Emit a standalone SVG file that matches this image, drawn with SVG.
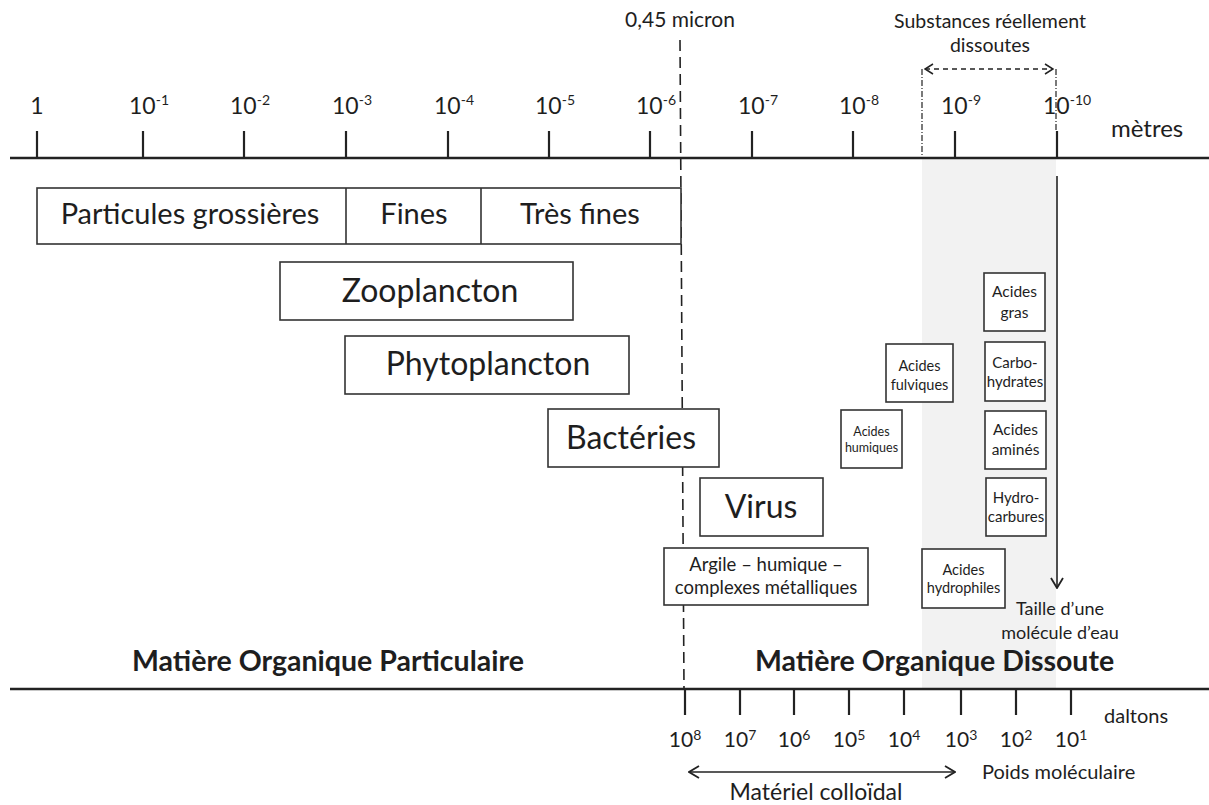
<svg xmlns="http://www.w3.org/2000/svg" width="1209" height="805" viewBox="0 0 1209 805">
<defs>
<style>
text{font-family:Lato,"Liberation Sans",sans-serif;fill:#1e1e1e}
.box{fill:#fff;stroke:#333;stroke-width:1.6}
.axis{stroke:#222;stroke-width:2.5;fill:none}
.tick{stroke:#222;stroke-width:2.2}
.mid{text-anchor:middle}
.t23{font-size:23px}
.sup{font-size:14px}
.big{font-size:32px}
.med{font-size:29px}
.bold{font-weight:bold;font-size:28.5px}
</style>
<marker id="chev" viewBox="0 0 12 14" refX="11" refY="7" markerWidth="12" markerHeight="14" markerUnits="userSpaceOnUse" orient="auto-start-reverse">
<path d="M1,1 L11,7 L1,13" fill="none" stroke="#222" stroke-width="1.8"/>
</marker>
<marker id="chevs" viewBox="0 0 10 12" refX="9" refY="6" markerWidth="10" markerHeight="12" markerUnits="userSpaceOnUse" orient="auto-start-reverse">
<path d="M1,1 L9,6 L1,11" fill="none" stroke="#222" stroke-width="1.5"/>
</marker>
</defs>
<rect width="1209" height="805" fill="#fff"/>
<rect x="922" y="159" width="134" height="530" fill="#f2f2f2"/>

<g id="axe-metres">
<line class="axis" x1="10" y1="158" x2="1209" y2="158"/>
<g class="tick">
<line x1="37" y1="131" x2="37" y2="158"/>
<line x1="143" y1="131" x2="143" y2="158"/>
<line x1="244" y1="131" x2="244" y2="158"/>
<line x1="346" y1="131" x2="346" y2="158"/>
<line x1="448" y1="131" x2="448" y2="158"/>
<line x1="549" y1="131" x2="549" y2="158"/>
<line x1="650" y1="131" x2="650" y2="158"/>
<line x1="752" y1="131" x2="752" y2="158"/>
<line x1="853" y1="131" x2="853" y2="158"/>
<line x1="955" y1="131" x2="955" y2="158"/>
<line x1="1057" y1="131" x2="1057" y2="158"/>
</g>
<text class="t23 mid" x="37" y="114">1</text>
<text class="t23" x="129" y="114">10<tspan class="sup" dy="-9">-1</tspan></text>
<text class="t23" x="230" y="114">10<tspan class="sup" dy="-9">-2</tspan></text>
<text class="t23" x="332" y="114">10<tspan class="sup" dy="-9">-3</tspan></text>
<text class="t23" x="434" y="114">10<tspan class="sup" dy="-9">-4</tspan></text>
<text class="t23" x="535" y="114">10<tspan class="sup" dy="-9">-5</tspan></text>
<text class="t23" x="636" y="114">10<tspan class="sup" dy="-9">-6</tspan></text>
<text class="t23" x="738" y="114">10<tspan class="sup" dy="-9">-7</tspan></text>
<text class="t23" x="839" y="114">10<tspan class="sup" dy="-9">-8</tspan></text>
<text class="t23" x="941" y="114">10<tspan class="sup" dy="-9">-9</tspan></text>
<text class="t23" x="1043" y="114">10<tspan class="sup" dy="-9">-10</tspan></text>
<text x="1111" y="137" style="font-size:24px">mètres</text>
</g>

<g id="seuil-045">
<line x1="680" y1="40" x2="684" y2="689" stroke="#222" stroke-width="1.6" stroke-dasharray="11,6"/>
<text class="mid" x="680" y="27" style="font-size:21px">0,45 micron</text>
</g>

<g id="substances-dissoutes">
<text class="mid" x="990" y="28" style="font-size:19.5px">Substances réellement</text>
<text class="mid" x="990" y="52" style="font-size:19.5px">dissoutes</text>
<line x1="922" y1="69" x2="922" y2="158" stroke="#222" stroke-width="1.2" stroke-dasharray="6,2,1,2"/>
<line x1="1056" y1="69" x2="1056" y2="131" stroke="#222" stroke-width="1.2" stroke-dasharray="6,2,1,2"/>
</g>

<g id="tailles">
<rect class="box" x="37" y="188" width="644" height="56"/>
<line x1="346" y1="188" x2="346" y2="244" stroke="#333" stroke-width="1.6"/>
<line x1="481" y1="188" x2="481" y2="244" stroke="#333" stroke-width="1.6"/>
<text class="med mid" x="190" y="224">Particules grossières</text>
<text class="med mid" x="414" y="224">Fines</text>
<text class="med mid" x="580" y="224">Très fines</text>
</g>

<g id="zooplancton">
<rect class="box" x="280" y="262" width="293" height="58"/>
<text class="big mid" x="430" y="302">Zooplancton</text>
</g>
<g id="phytoplancton">
<rect class="box" x="345" y="336" width="284" height="58"/>
<text class="big mid" x="488" y="375">Phytoplancton</text>
</g>
<g id="bacteries">
<rect class="box" x="548" y="409" width="171" height="58"/>
<text class="big mid" x="631" y="449">Bactéries</text>
</g>
<g id="virus">
<rect class="box" x="700" y="478" width="123" height="58"/>
<text class="big mid" x="761" y="518">Virus</text>
</g>
<g id="argile">
<rect class="box" x="664" y="548" width="204" height="57"/>
<text class="mid" x="766" y="571" style="font-size:18.5px">Argile – humique –</text>
<text class="mid" x="766" y="594" style="font-size:18.5px">complexes métalliques</text>
</g>
<g id="acides-humiques">
<rect class="box" x="841" y="410" width="61" height="58"/>
<text class="mid" x="871.5" y="436" style="font-size:12.5px">Acides</text>
<text class="mid" x="871.5" y="452" style="font-size:12.5px">humiques</text>
</g>
<g id="acides-fulviques">
<rect class="box" x="886" y="344" width="67" height="58"/>
<text class="mid" x="919.5" y="371" style="font-size:14.5px">Acides</text>
<text class="mid" x="919.5" y="390" style="font-size:14.5px">fulviques</text>
</g>
<g id="acides-gras">
<rect class="box" x="984" y="273" width="61" height="58"/>
<text class="mid" x="1014.5" y="297" style="font-size:15.5px">Acides</text>
<text class="mid" x="1014.5" y="318" style="font-size:15.5px">gras</text>
</g>
<g id="carbohydrates">
<rect class="box" x="985" y="342" width="60" height="59"/>
<text class="mid" x="1015" y="368" style="font-size:15px">Carbo-</text>
<text class="mid" x="1015" y="387" style="font-size:15px">hydrates</text>
</g>
<g id="acides-amines">
<rect class="box" x="985" y="411" width="61" height="58"/>
<text class="mid" x="1015.5" y="435" style="font-size:15.5px">Acides</text>
<text class="mid" x="1015.5" y="455" style="font-size:15.5px">aminés</text>
</g>
<g id="hydrocarbures">
<rect class="box" x="986" y="478" width="60" height="58"/>
<text class="mid" x="1016" y="503" style="font-size:15px">Hydro-</text>
<text class="mid" x="1016" y="522" style="font-size:15px">carbures</text>
</g>
<g id="acides-hydrophiles">
<rect class="box" x="922" y="549" width="83" height="59"/>
<text class="mid" x="963.5" y="575" style="font-size:14.5px">Acides</text>
<text class="mid" x="963.5" y="593" style="font-size:14.5px">hydrophiles</text>
</g>
<g id="molecule-eau">
<text class="mid" x="1060" y="615" style="font-size:18px">Taille d’une</text>
<text class="mid" x="1060" y="639" style="font-size:18px">molécule d’eau</text>
</g>

<g id="connecteurs">
<line x1="925" y1="69" x2="1053" y2="69" stroke="#222" stroke-width="1.4" stroke-dasharray="5,4" marker-start="url(#chevs)" marker-end="url(#chevs)"/>
<line x1="1057" y1="176" x2="1057" y2="588" stroke="#222" stroke-width="1.6" marker-end="url(#chev)"/>
<line x1="689" y1="772" x2="955" y2="772" stroke="#222" stroke-width="1.6" marker-start="url(#chev)" marker-end="url(#chev)"/>
</g>

<g id="titres">
<text class="bold" x="132" y="671">Matière Organique Particulaire</text>
<text class="bold" x="755" y="671">Matière Organique Dissoute</text>
</g>

<g id="axe-daltons">
<line class="axis" x1="10" y1="689" x2="1209" y2="689"/>
<g class="tick">
<line x1="685" y1="689" x2="685" y2="715"/>
<line x1="740" y1="689" x2="740" y2="715"/>
<line x1="794" y1="689" x2="794" y2="715"/>
<line x1="849" y1="689" x2="849" y2="715"/>
<line x1="904" y1="689" x2="904" y2="715"/>
<line x1="961" y1="689" x2="961" y2="715"/>
<line x1="1016" y1="689" x2="1016" y2="715"/>
<line x1="1071" y1="689" x2="1071" y2="715"/>
</g>
<g style="font-size:21px">
<text class="mid" x="685" y="747">10<tspan style="font-size:14px" dy="-7">8</tspan></text>
<text class="mid" x="740" y="747">10<tspan style="font-size:14px" dy="-7">7</tspan></text>
<text class="mid" x="794" y="747">10<tspan style="font-size:14px" dy="-7">6</tspan></text>
<text class="mid" x="849" y="747">10<tspan style="font-size:14px" dy="-7">5</tspan></text>
<text class="mid" x="904" y="747">10<tspan style="font-size:14px" dy="-7">4</tspan></text>
<text class="mid" x="961" y="747">10<tspan style="font-size:14px" dy="-7">3</tspan></text>
<text class="mid" x="1016" y="747">10<tspan style="font-size:14px" dy="-7">2</tspan></text>
<text class="mid" x="1071" y="747">10<tspan style="font-size:14px" dy="-7">1</tspan></text>
</g>
<text x="1104" y="723" style="font-size:20px">daltons</text>
<text x="982" y="779" style="font-size:20px">Poids moléculaire</text>
<text class="mid" x="816" y="800" style="font-size:23px">Matériel colloïdal</text>
</g>
</svg>
